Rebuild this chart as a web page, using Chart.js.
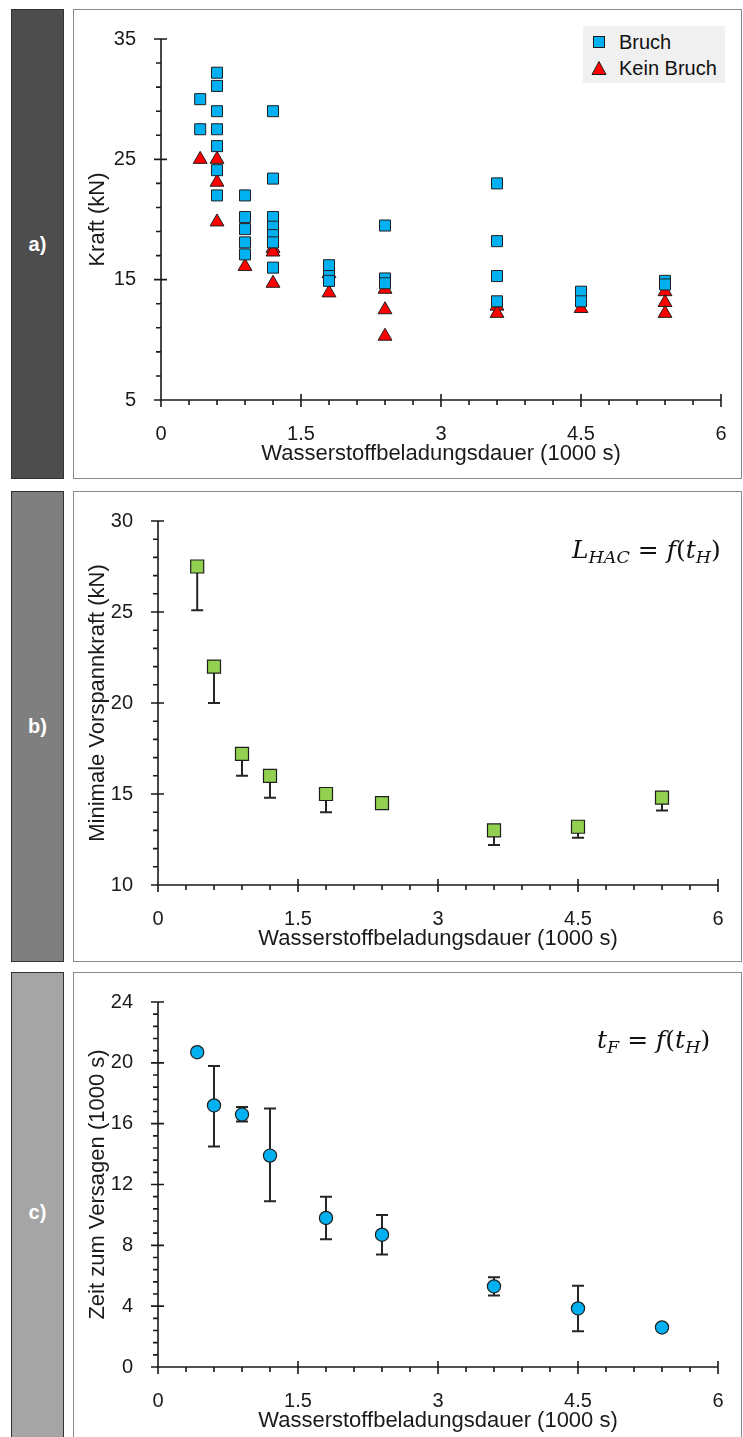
<!DOCTYPE html>
<html lang="de">
<head>
<meta charset="utf-8">
<title>Wasserstoffbeladungsdauer</title>
<script src="https://cdn.jsdelivr.net/npm/chart.js@4.4.1/dist/chart.umd.min.js"></script>
<style>
  html, body { margin: 0; padding: 0; background: #fff; }
  body { position: relative; width: 743px; height: 1437px; overflow: hidden;
         font-family: "Liberation Sans", Arial, sans-serif; }
  .strip { position: absolute; left: 11px; width: 53px; box-sizing: border-box;
           border: 1px solid #333; color: #fff; font-weight: bold; font-size: 20px;
           display: flex; align-items: center; justify-content: center; }
  .panel { position: absolute; left: 73px; width: 669px; box-sizing: border-box;
           border: 1px solid #8a8a8a; background: #fff; }
  .panel canvas { position: absolute; left: 0; top: 0; }
  .eq { position: absolute; font-family: "DejaVu Serif", serif; font-size: 25px;
        font-style: italic; white-space: nowrap; color: #111; line-height: 30px; }
  .eq sub { font-size: 0.7em; vertical-align: -0.3em; line-height: 0; }
  .eq .op { font-style: normal; }
  .legend { position: absolute; left: 583px; top: 26px; width: 142px; height: 57px;
            background: #f0f0f0; font-size: 20px; color: #111; }
  .legend div { position: absolute; left: 8px; height: 24px; line-height: 24px; }
  .legend svg { position: absolute; left: 0; top: 4px; }
  .legend span { position: absolute; left: 28px; white-space: nowrap; }
</style>
</head>
<body>

<div class="strip" style="top:9px;height:470px;background:#4d4d4d;">a)</div>
<div class="strip" style="top:491px;height:471px;background:#7f7f7f;">b)</div>
<div class="strip" style="top:972px;height:480px;background:#a5a5a5;">c)</div>

<div class="panel" style="top:9px;height:470px;"><canvas id="chartA" width="667" height="468"></canvas></div>
<div class="panel" style="top:491px;height:471px;"><canvas id="chartB" width="667" height="469"></canvas></div>
<div class="panel" style="top:972px;height:480px;"><canvas id="chartC" width="667" height="464"></canvas></div>

<div class="legend">
  <div style="top:4px;">
    <svg width="16" height="16"><rect x="2.5" y="2.5" width="11" height="11" fill="#00b0f0" stroke="#1a1a1a" stroke-width="1"/></svg>
    <span>Bruch</span>
  </div>
  <div style="top:30px;">
    <svg width="16" height="16"><polygon points="8,1.5 15,14.5 1,14.5" fill="#ff0000" stroke="#1a1a1a" stroke-width="1"/></svg>
    <span>Kein Bruch</span>
  </div>
</div>

<div class="eq" style="left:572px;top:535px;">L<sub>HAC</sub> <span class="op">=</span> f<span class="op">(</span>t<sub>H</sub><span class="op">)</span></div>
<div class="eq" style="left:597px;top:1025px;">t<sub>F</sub> <span class="op">=</span> f<span class="op">(</span>t<sub>H</sub><span class="op">)</span></div>

<script>
// a) individual tests: loading time (1000 s) vs. force (kN)
var bruchTime = [0.42, 0.42,
  0.6, 0.6, 0.6, 0.6, 0.6, 0.6, 0.6,
  0.9, 0.9, 0.9, 0.9, 0.9,
  1.2, 1.2, 1.2, 1.2, 1.2, 1.2, 1.2,
  1.8, 1.8, 1.8,
  2.4, 2.4, 2.4,
  3.6, 3.6, 3.6, 3.6,
  4.5, 4.5,
  5.4, 5.4];
var bruchForce = [30.0, 27.5,
  32.2, 31.1, 29.0, 27.5, 26.1, 24.1, 22.0,
  22.0, 20.2, 19.2, 18.1, 17.1,
  29.0, 23.4, 20.2, 19.4, 18.7, 18.1, 16.0,
  16.2, 15.3, 14.9,
  19.5, 15.1, 14.7,
  23.0, 18.2, 15.3, 13.2,
  14.0, 13.2,
  14.9, 14.6];
var keinBruchTime = [0.42, 0.6, 0.6, 0.6, 0.9, 1.2, 1.2, 1.2, 1.8, 1.8,
  2.4, 2.4, 2.4, 3.6, 3.6, 4.5, 5.4, 5.4, 5.4];
var keinBruchForce = [25.0, 25.0, 23.1, 19.8, 16.1, 17.6, 17.3, 14.7, 15.5, 13.9,
  14.2, 12.5, 10.3, 12.8, 12.2, 12.6, 14.0, 13.1, 12.2];

// b) and c) share the loading times
var loadTime = [0.42, 0.6, 0.9, 1.2, 1.8, 2.4, 3.6, 4.5, 5.4];
var minForce = [27.5, 22.0, 17.2, 16.0, 15.0, 14.5, 13.0, 13.2, 14.8];
var minForceLow = [25.1, 20.0, 16.0, 14.8, 14.0, null, 12.2, 12.6, 14.1];
var failTime = [20.7, 17.2, 16.6, 13.9, 9.8, 8.7, 5.3, 3.85, 2.6];
var failTimeLow = [null, 14.5, 16.15, 10.9, 8.4, 7.4, 4.7, 2.35, null];
var failTimeHigh = [null, 19.8, 17.1, 17.0, 11.2, 10.0, 5.9, 5.35, null];

var TEXT = "#1a1a1a";
var AXIS = "#1a1a1a";
var EDGE = "#1f1f1f";

Chart.defaults.font.family = "'Liberation Sans', Arial, sans-serif";
Chart.defaults.color = TEXT;

function points(xs, ys) {
  return xs.map(function (x, i) { return { x: x, y: ys[i] }; });
}

// axis lines with crossing major ticks and outward minor ticks
var axisDecor = {
  id: "axisDecor",
  beforeDatasetsDraw: function (chart, args, opts) {
    var ctx = chart.ctx, a = chart.chartArea;
    var xs = chart.scales.x, ys = chart.scales.y;
    var i, n, px;
    ctx.save();
    ctx.strokeStyle = AXIS;
    ctx.lineWidth = 1.6;
    ctx.beginPath();
    ctx.moveTo(a.left, a.top);
    ctx.lineTo(a.left, a.bottom);
    ctx.lineTo(a.right, a.bottom);
    xs.ticks.forEach(function (t) {
      px = xs.getPixelForValue(t.value);
      ctx.moveTo(px, a.bottom - 6);
      ctx.lineTo(px, a.bottom + 7);
    });
    ys.ticks.forEach(function (t) {
      px = ys.getPixelForValue(t.value);
      ctx.moveTo(a.left - 7, px);
      ctx.lineTo(a.left + 6, px);
    });
    n = Math.round((xs.max - xs.min) / opts.minorX);
    for (i = 1; i < n; i++) {
      px = xs.getPixelForValue(xs.min + i * opts.minorX);
      ctx.moveTo(px, a.bottom);
      ctx.lineTo(px, a.bottom + 5);
    }
    n = Math.round((ys.max - ys.min) / opts.minorY);
    for (i = 1; i < n; i++) {
      px = ys.getPixelForValue(ys.min + i * opts.minorY);
      ctx.moveTo(a.left - 5, px);
      ctx.lineTo(a.left, px);
    }
    ctx.stroke();
    ctx.restore();
  }
};

// whiskers from errLow / errHigh arrays on a dataset
var errorBars = {
  id: "errorBars",
  beforeDatasetsDraw: function (chart) {
    var ctx = chart.ctx;
    var xs = chart.scales.x, ys = chart.scales.y;
    ctx.save();
    ctx.strokeStyle = "#262626";
    ctx.lineWidth = 2;
    chart.data.datasets.forEach(function (ds) {
      if (!ds.errLow && !ds.errHigh) return;
      ds.data.forEach(function (p, i) {
        var px = xs.getPixelForValue(p.x);
        var py = ys.getPixelForValue(p.y);
        [ds.errLow && ds.errLow[i], ds.errHigh && ds.errHigh[i]].forEach(function (v) {
          if (v == null) return;
          var ey = ys.getPixelForValue(v);
          ctx.beginPath();
          ctx.moveTo(px, py);
          ctx.lineTo(px, ey);
          ctx.moveTo(px - 6, ey);
          ctx.lineTo(px + 6, ey);
          ctx.stroke();
        });
      });
    });
    ctx.restore();
  }
};

function makeChart(id, cfg) {
  return new Chart(document.getElementById(id), {
    type: "scatter",
    data: { datasets: cfg.datasets },
    options: {
      responsive: false,
      animation: false,
      devicePixelRatio: 1,
      layout: { padding: { left: 0, top: cfg.top, right: cfg.right, bottom: 0 } },
      plugins: {
        legend: { display: false },
        tooltip: { enabled: false },
        axisDecor: { minorX: 0.3, minorY: cfg.minorY }
      },
      scales: {
        x: {
          type: "linear",
          min: 0,
          max: 6,
          ticks: { stepSize: 1.5, padding: 14, color: TEXT, font: { size: 20 } },
          grid: { display: false },
          border: { display: false },
          title: {
            display: true,
            text: "Wasserstoffbeladungsdauer (1000 s)",
            color: TEXT,
            font: { size: 22 },
            padding: { top: 0, bottom: cfg.xTitlePad }
          },
          afterFit: function (s) { s.height = cfg.xHeight; }
        },
        y: {
          type: "linear",
          min: cfg.yMin,
          max: cfg.yMax,
          ticks: { stepSize: cfg.yStep, padding: 17, color: TEXT, font: { size: 20 } },
          grid: { display: false },
          border: { display: false },
          title: {
            display: true,
            text: cfg.yTitle,
            color: TEXT,
            font: { size: 22 },
            padding: { top: 11, bottom: 0 }
          },
          afterFit: function (s) { s.width = cfg.yWidth; }
        }
      }
    },
    plugins: [errorBars, axisDecor]
  });
}

makeChart("chartA", {
  top: 19, right: 20, yWidth: 87, xHeight: 78, xTitlePad: 11,
  yMin: 5, yMax: 35, yStep: 10, minorY: 2, yTitle: "Kraft (kN)",
  datasets: [
    {
      label: "Bruch",
      data: points(bruchTime, bruchForce),
      pointStyle: "rect",
      pointRadius: 7.8,
      backgroundColor: "#00b0f0",
      borderColor: EDGE,
      borderWidth: 1
    },
    {
      label: "Kein Bruch",
      data: points(keinBruchTime, keinBruchForce),
      pointStyle: "triangle",
      pointRadius: 8,
      backgroundColor: "#ff0000",
      borderColor: EDGE,
      borderWidth: 1
    }
  ]
});

makeChart("chartB", {
  top: 20, right: 23, yWidth: 84, xHeight: 76, xTitlePad: 9,
  yMin: 10, yMax: 30, yStep: 5, minorY: 1, yTitle: "Minimale Vorspannkraft (kN)",
  datasets: [
    {
      label: "Minimale Vorspannkraft",
      data: points(loadTime, minForce),
      errLow: minForceLow,
      pointStyle: "rect",
      pointRadius: 9.2,
      backgroundColor: "#92d050",
      borderColor: EDGE,
      borderWidth: 1.2
    }
  ]
});

makeChart("chartC", {
  top: 22, right: 23, yWidth: 84, xHeight: 70, xTitlePad: 3,
  yMin: 0, yMax: 24, yStep: 4, minorY: 0.8, yTitle: "Zeit zum Versagen (1000 s)",
  datasets: [
    {
      label: "Zeit zum Versagen",
      data: points(loadTime, failTime),
      errLow: failTimeLow,
      errHigh: failTimeHigh,
      pointStyle: "circle",
      pointRadius: 6.6,
      backgroundColor: "#00b0f0",
      borderColor: EDGE,
      borderWidth: 1.2
    }
  ]
});
</script>
</body>
</html>
